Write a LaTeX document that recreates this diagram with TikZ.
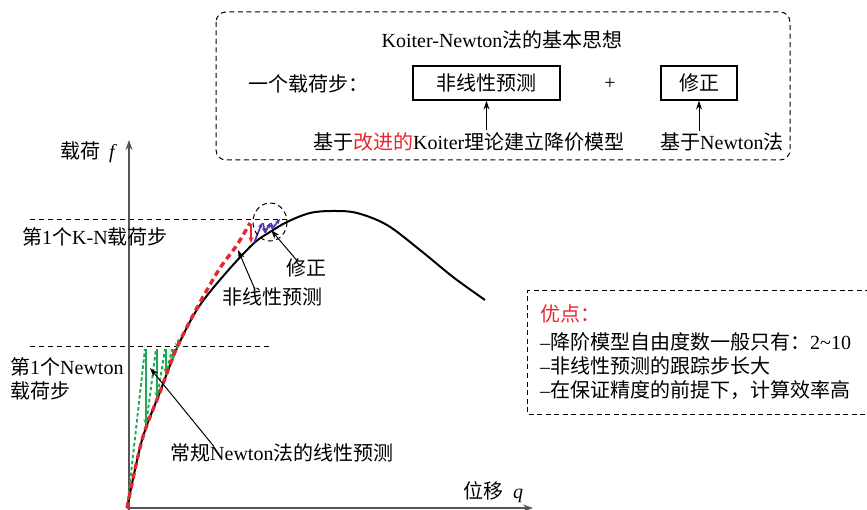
\documentclass[tikz,border=0pt]{standalone}
\usepackage{fontspec}
\setmainfont{Liberation Serif}
\newfontfamily\cjk{Noto Sans CJK SC}
\newcommand{\zh}[1]{{\cjk #1}}
\usetikzlibrary{arrows.meta}
\definecolor{rd}{RGB}{232,38,45}
\definecolor{gn}{RGB}{30,170,85}
\definecolor{pp}{RGB}{80,50,170}
\definecolor{ax}{RGB}{85,85,85}
\begin{document}
\begin{tikzpicture}[x=1pt,y=-1pt,
  lbl/.style={font=\fontsize{20}{22}\selectfont, inner sep=0pt},
  boxn/.style={lbl, draw, line width=1.2pt, minimum height=34pt},
  arr/.style={-{Stealth[length=9pt,width=6pt]}, line width=1pt},
  dbox/.style={dash pattern=on 5pt off 3.5pt, line width=1pt},
  guide/.style={dash pattern=on 5pt off 4pt, line width=1pt},
  curve/.style={line width=2pt},
  rdash/.style={rd, line width=3.4pt, dash pattern=on 6pt off 4pt},
  gdash/.style={gn, line width=1.9pt, dash pattern=on 3.5pt off 2.5pt},
  garr/.style={gn, line width=1.2pt, -{Stealth[length=7pt,width=5pt]}},
  parr/.style={pp, line width=1.7pt, -{Stealth[length=5pt,width=4.5pt]}}]
\useasboundingbox (0,0) rectangle (867,510);

% ---- top box ----
\draw[dbox, rounded corners=10pt] (216,12) rectangle (790,160);
\node[lbl] (title) at (502,40) {Koiter-Newton\zh{法的基本思想}};
\node[lbl, anchor=west] (step) at (248,84) {\zh{一个载荷步：}};
\node[boxn, minimum width=147pt] (pred) at (486.5,83) {\zh{非线性预测}};
\node[lbl] (plus) at (610,84) {+};
\node[boxn, minimum width=76pt] (corr) at (699,83) {\zh{修正}};
\node[lbl, anchor=west] (basis1) at (313,142) {\zh{基于}\textcolor{rd}{\zh{改进的}}Koiter\zh{理论建立降价模型}};
\node[lbl, anchor=west] (basis2) at (660,142) {\zh{基于}Newton\zh{法}};
\draw[arr] (pred.south |- basis1.north) ++(0,-2) -- (pred.south);
\draw[arr] (corr.south |- basis2.north) ++(0,-2) -- (corr.south);

% ---- right box ----
\draw[dbox] (870,291) -- (527,291) -- (527,414) -- (870,414);
\node[lbl, anchor=west, text=rd] (adv) at (540,314) {\zh{优点：}};
\node[lbl, anchor=west] (a1) at (540,342) {–\zh{降阶模型自由度数一般只有：}2\textasciitilde10};
\node[lbl, anchor=west] (a2) at (540,366) {–\zh{非线性预测的跟踪步长大}};
\node[lbl, anchor=west] (a3) at (540,390) {–\zh{在保证精度的前提下，计算效率高}};

% ---- guides ----
\draw[guide] (30,220) -- (290,220);
\draw[guide] (30,347) -- (272,347);

% ---- axes ----
\coordinate (O) at (127,508);
\coordinate (ytop) at (129,140);
\coordinate (xend) at (533,508);
\draw[ax, line width=1.5pt, -{Stealth[length=10pt,width=7pt]}] (129,510) -- (ytop);
\draw[ax, line width=1.5pt, -{Stealth[length=10pt,width=7pt]}] (127,508) -- (xend);
\node[lbl, anchor=west] (flbl) at (60,152) {\zh{载荷}\hspace{9pt}\textit{f}};
\node[lbl, anchor=west] (qlbl) at (463,492) {\zh{位移}\hspace{10pt}\textit{q}};

% ---- curve ----
\draw[curve] plot[smooth, tension=0.55] coordinates {(127,508) (142,440) (160,392) (177,348) (198,308) (225,274) (253,244) (270,232) (287,222) (310,213) (333,211) (357,213) (387,225) (420,250) (453,277) (485,300)};

% ---- Newton iterations ----
\draw[gdash] (128,500) -- (145,349);
\draw[garr] (146,349) -- (146,426);
\draw[gdash] (146,426) -- (156,349);
\draw[garr] (157,349) -- (157,399);
\draw[gdash] (157,399) -- (165,349);
\draw[garr] (166,349) -- (166,375);
\draw[gdash] (166,375) -- (172,349);
\draw[garr] (173,349) -- (173,361);
\draw[garr] (178,339) -- (177,350);

% ---- nonlinear prediction ----
\draw[rdash] plot[smooth, tension=0.55] coordinates {(127,508) (142,440) (160,392) (175,352) (188,325) (203,297) (220,268) (237,245) (250,223)};
\draw[rd, line width=1.3pt, -{Stealth[length=6pt,width=5pt]}] (251,224) -- (251,243);
\draw[parr] (254,243) -- (262,223);
\draw[parr] (263,223) -- (265,233);
\draw[parr] (265,233) -- (270,223);
\draw[parr] (271,223) -- (272,229);
\draw[parr] (272,229) -- (280,219);
\draw[dbox] (270,222) ellipse [x radius=17, y radius=19];

% ---- labels ----
\node[lbl, anchor=west] (kn) at (22,237) {\zh{第}1\zh{个}K-N\zh{载荷步}};
\node[lbl, anchor=west] (nw1) at (10,367) {\zh{第}1\zh{个}Newton};
\node[lbl, anchor=west] (nw2) at (10,391) {\zh{载荷步}};
\node[lbl, anchor=west] (corrl) at (286,268) {\zh{修正}};
\node[lbl, anchor=west] (nlp) at (222,297) {\zh{非线性预测}};
\node[lbl, anchor=west] (lin) at (170,453) {\zh{常规}Newton\zh{法的线性预测}};
\coordinate (pc) at (271,230);
\coordinate (pn) at (238,250);
\coordinate (pl) at (150,368);
\draw[arr] ([xshift=11pt,yshift=-2pt]corrl.north west) -- (pc);
\draw[arr] ([xshift=33pt,yshift=-2pt]nlp.north west) -- (pn);
\draw[arr] ([xshift=44pt,yshift=-3pt]lin.north west) -- (pl);
\end{tikzpicture}
\end{document}
